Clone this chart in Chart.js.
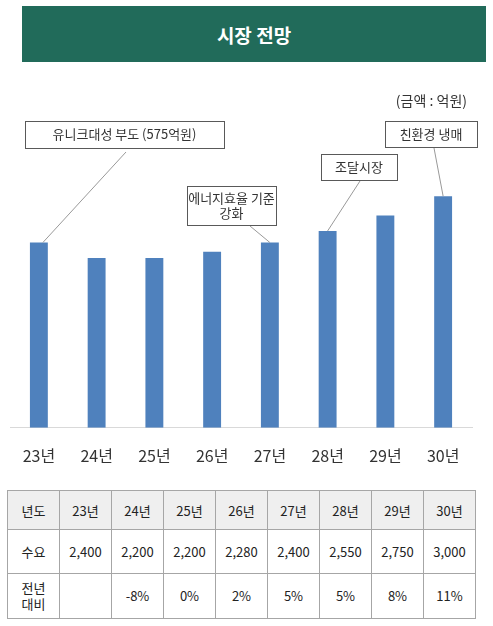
<!DOCTYPE html>
<html><head><meta charset="utf-8">
<script src="https://cdn.jsdelivr.net/npm/chart.js@4"></script>
<style>
body{margin:0;background:#fff;font-family:"Noto Sans CJK KR","Noto Sans",sans-serif;width:493px;height:626px;position:relative;overflow:hidden}
#banner{position:absolute;left:22px;top:6px;width:464px;height:56px;background:#216b5a;color:#fff;font-weight:bold;font-size:19px;display:flex;align-items:center;justify-content:center}
#wrap{position:absolute;left:0;top:0;width:493px;height:488px}
table{position:absolute;left:7px;top:490px;border-collapse:collapse;font-size:13px;color:#222}
td{border:1px solid #a6a6a6;text-align:center;padding:0;width:51px}
td:first-child{width:51px}
tr.h td{background:#efefef;height:38px}
tr.v td{height:43px}
tr.p td{height:44px;line-height:16px}
</style></head><body>
<div id="wrap"><canvas id="c"></canvas></div>
<div id="banner">시장 전망</div>
<table id="t"></table>
<script>
const years = ['23년','24년','25년','26년','27년','28년','29년','30년'];
const demand = [2400, 2200, 2200, 2280, 2400, 2550, 2750, 3000];
const change = ['', '-8%', '0%', '2%', '5%', '5%', '8%', '11%'];
const notes = [
  {i:0, text:['유니크대성 부도 (575억원)'], box:[25,121,199,27], from:[126,152]},
  {i:4, text:['에너지효율 기준','강화'], box:[187,186,89,39], from:[250,226]},
  {i:5, text:['조달시장'], box:[321,154,76,26], from:[360,181]},
  {i:7, text:['친환경 냉매'], box:[385,121,92,26], from:[434,148]}
];

const t = document.getElementById('t');
t.innerHTML =
  '<tr class="h"><td>년도</td>' + years.map(y => '<td>' + y + '</td>').join('') + '</tr>' +
  '<tr class="v"><td>수요</td>' + demand.map(v => '<td>' + v.toLocaleString('en-US') + '</td>').join('') + '</tr>' +
  '<tr class="p"><td>전년<br>대비</td>' + change.map(v => '<td>' + v + '</td>').join('') + '</tr>';

const callouts = {
  id: 'callouts',
  afterDraw(chart) {
    const ctx = chart.ctx;
    const meta = chart.getDatasetMeta(0);
    ctx.save();
    ctx.font = '14px "Noto Sans CJK KR"';
    ctx.fillStyle = '#333';
    ctx.textAlign = 'right';
    ctx.textBaseline = 'middle';
    ctx.fillText('(금액 : 억원)', 467, 101);
    notes.forEach(n => {
      const bar = meta.data[n.i];
      const [x, y, w, h] = n.box;
      ctx.strokeStyle = '#999';
      ctx.lineWidth = 1;
      ctx.beginPath();
      ctx.moveTo(n.from[0], n.from[1]);
      ctx.lineTo(bar.x + (n.i === 0 ? 4 : 0), bar.y);
      ctx.stroke();
      ctx.fillStyle = '#fff';
      ctx.fillRect(x, y, w, h);
      ctx.strokeStyle = '#595959';
      ctx.strokeRect(x + 0.5, y + 0.5, w, h);
      ctx.fillStyle = '#333';
      ctx.font = '13px "Noto Sans CJK KR"';
      ctx.textAlign = 'center';
      const lh = 15, y0 = y + h / 2 - (n.text.length - 1) * lh / 2;
      n.text.forEach((s, k) => ctx.fillText(s, x + w / 2, y0 + k * lh));
    });
    ctx.restore();
  }
};

new Chart(document.getElementById('c'), {
  type: 'bar',
  data: { labels: years, datasets: [{ data: demand, backgroundColor: '#4f81bd', categoryPercentage: 1, barPercentage: 0.31 }] },
  options: {
    responsive: true, maintainAspectRatio: false, animation: false,
    layout: { padding: { left: 10, right: 21, top: 119, bottom: 11 } },
    plugins: { legend: { display: false }, tooltip: { enabled: false } },
    scales: {
      x: { grid: { display: false }, border: { color: '#d9d9d9' },
           ticks: { color: '#333', font: { size: 16, family: '"Noto Sans CJK KR"' }, padding: 11 } },
      y: { display: false, min: 0, max: 4000 }
    }
  },
  plugins: [callouts]
});
</script>
</body></html>
